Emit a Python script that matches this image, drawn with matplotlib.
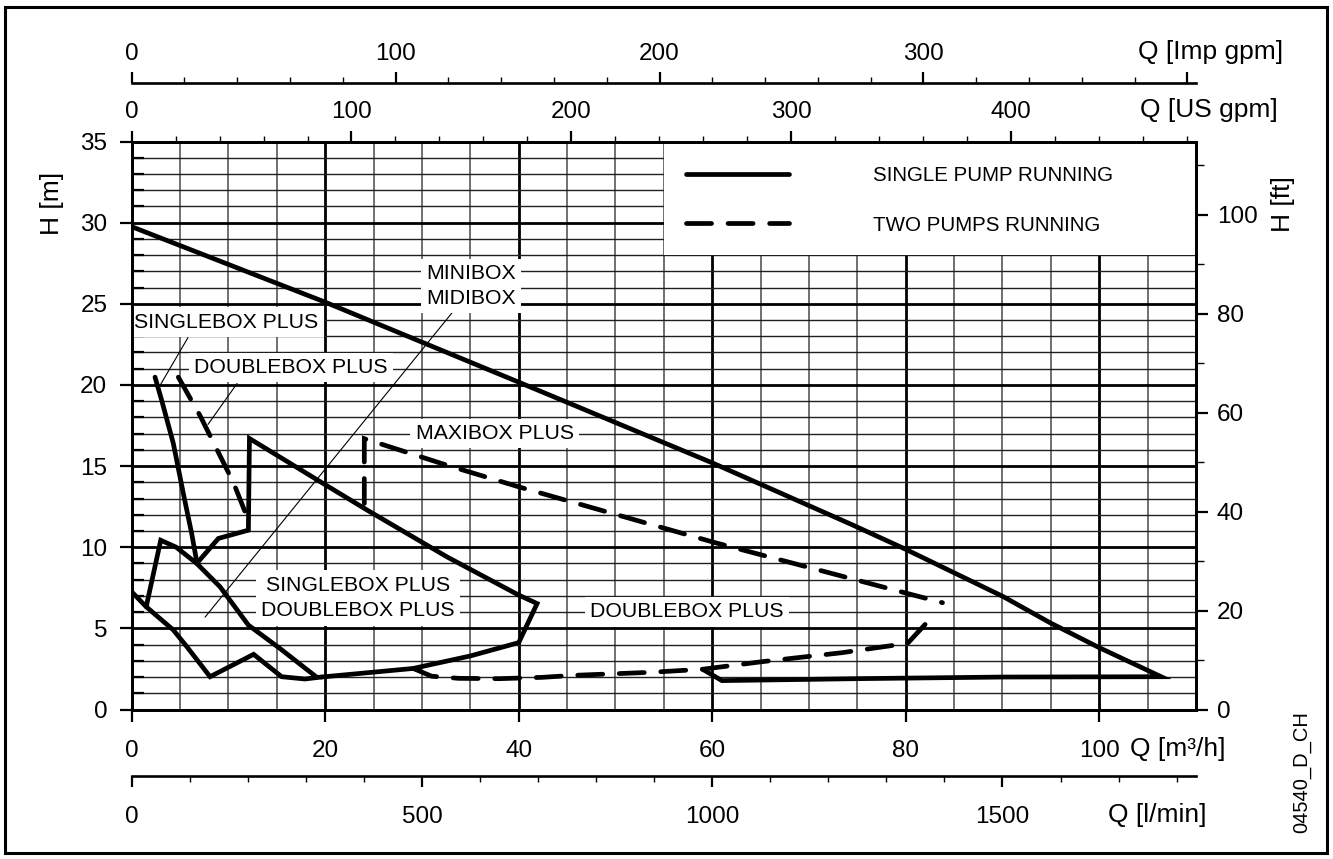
import matplotlib
matplotlib.use('Agg')
import matplotlib.pyplot as plt
from matplotlib.ticker import MultipleLocator, FixedLocator, FixedFormatter
from matplotlib.patches import Rectangle
from matplotlib.lines import Line2D

plt.rcParams['font.family'] = ['Liberation Sans', 'DejaVu Sans']

# ---------------- data (Q in m3/h, H in m) ----------------
mini_midi_q = [59.0, 61.0, 75.0, 90.0, 106.4, 100.0, 94.9, 90.1, 80.0, 74.4, 60.0, 40.0, 20.0, 0.0]
mini_midi_h = [2.48, 1.78, 1.90, 2.00, 2.02, 3.81, 5.35, 6.95, 9.87, 11.4, 15.2, 20.17, 25.1, 29.75]

maxi_single_q = [6.72, 8.96, 12.06, 12.17, 20.0, 24.3, 32.6, 40.0, 41.9, 40.0, 35.0, 29.1, 19.6]
maxi_single_h = [9.0, 10.54, 11.05, 16.7, 13.85, 12.3, 9.4, 7.05, 6.53, 4.12, 3.3, 2.53, 2.0]

maxi_double_q = [24.04, 24.04, 32.6, 40.0, 60.3, 83.8]
maxi_double_h = [12.69, 16.69, 15.05, 13.72, 10.28, 6.58]

double_bottom_q = [29.1, 31.0, 33.8, 38.0, 42.4, 45.5, 53.6, 59.0, 65.2, 73.4, 80.2, 82.9]
double_bottom_h = [2.53, 2.05, 1.92, 1.90, 1.98, 2.10, 2.29, 2.48, 2.95, 3.50, 4.08, 5.82]

single_steep_q = [2.41, 3.1, 4.3, 5.34, 6.2, 6.65]
single_steep_h = [20.48, 19.05, 16.4, 13.3, 10.84, 9.35]

double_steep_q = [4.82, 6.37, 7.07, 10.5, 12.24]
double_steep_h = [20.48, 18.84, 18.1, 14.0, 11.4]

small_a_q = [0.0, 1.5, 4.3, 5.7, 8.1, 12.6, 15.5, 17.9, 19.6]
small_a_h = [7.25, 6.33, 4.9, 3.87, 2.02, 3.4, 2.02, 1.88, 2.0]

small_b_q = [1.5, 3.0, 4.6, 6.72, 9.13, 12.06, 15.3, 19.1]
small_b_h = [6.33, 10.43, 10.0, 9.0, 7.56, 5.2, 3.77, 2.0]

legend_labels = ['SINGLE PUMP RUNNING', 'TWO PUMPS RUNNING']

m3h_ticks = [0, 20, 40, 60, 80, 100]
lmin_ticks = [0, 500, 1000, 1500]
usgpm_ticks = [0, 100, 200, 300, 400]
impgpm_ticks = [0, 100, 200, 300, 400]
impgpm_labels = ['0', '100', '200', '300', '']
hm_ticks = [0, 5, 10, 15, 20, 25, 30, 35]
hft_ticks = [0, 20, 40, 60, 80, 100]

# unit conversions to m3/h and m
US_GPM = 0.227125
IMP_GPM = 0.272765
L_MIN = 0.06
FT = 0.3048

# ---------------- figure ----------------
W, Hpx = 1333, 859
fig = plt.figure(figsize=(W / 100, Hpx / 100), dpi=100)


def fx(px):
    return px / W


def fy(py):
    return 1 - py / Hpx


L, R, T, B = 131.7, 1196.0, 141.5, 709.5
QMAX, HMAX = 110.0, 35.0
TICK_FS = 17.5
UNIT_FS = 19
ANN_FS = 15.3

ax = fig.add_axes([fx(L), fy(B), fx(R) - fx(L), fy(T) - fy(B)])
ax.set_xlim(0, QMAX)
ax.set_ylim(0, HMAX)
ax.set_axisbelow(True)
ax.xaxis.set_major_locator(FixedLocator(m3h_ticks))
ax.xaxis.set_minor_locator(MultipleLocator(5))
ax.yaxis.set_major_locator(FixedLocator(hm_ticks))
ax.yaxis.set_minor_locator(MultipleLocator(1))
ax.grid(which='major', color='black', lw=2.0)
ax.grid(which='minor', axis='x', color='#707070', lw=1.4)
ax.grid(which='minor', axis='y', color='#202020', lw=1.0)
ax.tick_params(axis='x', which='major', direction='out', length=8.6, width=1.6,
               labelsize=TICK_FS, pad=13.5, top=False)
ax.tick_params(axis='x', which='minor', length=0, top=False)
ax.tick_params(axis='y', which='major', direction='out', length=8.6, width=1.6,
               labelsize=TICK_FS, pad=9.0, right=False)
ax.tick_params(axis='y', which='minor', direction='in', length=8.6, width=1.6, right=False)
for s in ax.spines.values():
    s.set_linewidth(1.9)

# legend background
ax.add_patch(Rectangle((55, 28), 55, 7, facecolor='white', edgecolor='none', zorder=1.5))

LW = 3.4
DASH = (0, (5.3, 3.5))
solid_kw = dict(color='black', lw=LW, zorder=3, solid_joinstyle='miter', solid_capstyle='round')
dash_kw = dict(color='black', lw=LW, zorder=3, ls=DASH, dash_capstyle='round', dash_joinstyle='miter')

ax.plot(mini_midi_q, mini_midi_h, **solid_kw)
ax.plot(maxi_single_q, maxi_single_h, **solid_kw)
ax.plot(single_steep_q, single_steep_h, **solid_kw)
ax.plot(small_a_q, small_a_h, **solid_kw)
ax.plot(small_b_q, small_b_h, **solid_kw)
ax.plot(maxi_double_q, maxi_double_h, **dash_kw)
ax.plot(double_bottom_q, double_bottom_h, **dash_kw)
ax.plot(double_steep_q, double_steep_h, **dash_kw)

# legend
handles = [Line2D([], [], color='black', lw=LW, solid_capstyle='round'),
           Line2D([], [], color='black', lw=LW, ls=DASH, dash_capstyle='round')]
ax.legend(handles, legend_labels, loc='upper left', bbox_to_anchor=(57.3, 33.5),
          bbox_transform=ax.transData, frameon=False, borderpad=0, borderaxespad=0,
          handlelength=5.0, handletextpad=4.1, labelspacing=1.5, fontsize=14.8)

# annotation labels
box = dict(boxstyle='square,pad=0.25', fc='white', ec='none')
lead = dict(arrowstyle='-', lw=0.8, color='black', shrinkA=0, shrinkB=0)
ax.annotate('', xy=(7.58, 5.69), xytext=(33.13, 24.46), arrowprops=lead, zorder=2.5)
ax.annotate('', xy=(2.93, 19.97), xytext=(5.82, 22.92), arrowprops=lead, zorder=2.5)
ax.annotate('', xy=(7.89, 17.57), xytext=(10.89, 20.09), arrowprops=lead, zorder=2.5)

ax.text(35.1, 26.1, 'MINIBOX\nMIDIBOX', ha='center', va='center', multialignment='left',
        fontsize=ANN_FS, bbox=box, zorder=2.8, linespacing=1.36)
ax.text(9.76, 23.86, 'SINGLEBOX PLUS', ha='center', va='center', fontsize=ANN_FS, bbox=box, zorder=2.8)
ax.text(16.48, 21.08, 'DOUBLEBOX PLUS', ha='center', va='center', fontsize=ANN_FS, bbox=box, zorder=2.8)
ax.text(37.5, 17.0, 'MAXIBOX PLUS', ha='center', va='center', fontsize=ANN_FS, bbox=box, zorder=2.8)
ax.text(23.4, 6.87, 'SINGLEBOX PLUS\nDOUBLEBOX PLUS', ha='center', va='center', fontsize=ANN_FS,
        bbox=box, zorder=2.8, linespacing=1.45)
ax.text(57.4, 6.02, 'DOUBLEBOX PLUS', ha='center', va='center', fontsize=ANN_FS, bbox=box, zorder=2.8)

# right axis in ft
axr = ax.twinx()
axr.set_ylim(0, HMAX / FT)
axr.yaxis.set_major_locator(FixedLocator(hft_ticks))
axr.yaxis.set_minor_locator(MultipleLocator(10))
axr.tick_params(axis='y', which='major', direction='out', length=8.6, width=1.6, labelsize=TICK_FS, pad=6.5)
axr.tick_params(axis='y', which='minor', direction='out', length=5.5, width=1.0)
for s in axr.spines.values():
    s.set_linewidth(1.9)

# top axis in US gpm
axt = ax.twiny()
axt.set_xlim(0, QMAX / US_GPM)
axt.xaxis.set_major_locator(FixedLocator(usgpm_ticks))
axt.xaxis.set_minor_locator(MultipleLocator(20))
axt.tick_params(axis='x', which='major', direction='out', length=8.2, width=1.6, labelsize=TICK_FS, pad=4.8)
axt.tick_params(axis='x', which='minor', direction='out', length=4.4, width=1.0)
for s in axt.spines.values():
    s.set_linewidth(1.9)

# Imp gpm axis (separate line above)
axi = fig.add_axes([fx(L), fy(82.7), fx(R) - fx(L), 1e-4])
axi.set_xlim(0, QMAX / IMP_GPM)
axi.patch.set_visible(False)
for k in ['left', 'right', 'bottom']:
    axi.spines[k].set_visible(False)
axi.spines['top'].set_linewidth(1.9)
axi.set_yticks([])
axi.xaxis.set_ticks_position('top')
axi.xaxis.set_label_position('top')
axi.xaxis.set_major_locator(FixedLocator(impgpm_ticks))
axi.xaxis.set_major_formatter(FixedFormatter(impgpm_labels))
axi.xaxis.set_minor_locator(MultipleLocator(20))
axi.tick_params(axis='x', which='major', direction='out', length=8.2, width=1.6, labelsize=TICK_FS, pad=4.3)
axi.tick_params(axis='x', which='minor', direction='out', length=4.4, width=1.0)

# l/min axis (separate line below)
axl = fig.add_axes([fx(L), fy(775.7), fx(R) - fx(L), 1e-4])
axl.set_xlim(0, QMAX / L_MIN)
axl.patch.set_visible(False)
for k in ['left', 'right', 'top']:
    axl.spines[k].set_visible(False)
axl.spines['bottom'].set_linewidth(1.9)
axl.set_yticks([])
axl.xaxis.set_major_locator(FixedLocator(lmin_ticks))
axl.xaxis.set_minor_locator(MultipleLocator(100))
axl.tick_params(axis='x', which='major', direction='out', length=8.0, width=1.6, labelsize=TICK_FS, pad=13.5)
axl.tick_params(axis='x', which='minor', direction='out', length=4.4, width=1.0)

# axis unit labels
fig.text(fx(1283), fy(51.5), 'Q [Imp gpm]', ha='right', va='center', fontsize=UNIT_FS)
fig.text(fx(1278), fy(110), 'Q [US gpm]', ha='right', va='center', fontsize=UNIT_FS)
fig.text(fx(1225), fy(749), 'Q [m³/h]', ha='right', va='center', fontsize=UNIT_FS)
fig.text(fx(1206), fy(815), 'Q [l/min]', ha='right', va='center', fontsize=UNIT_FS)
fig.text(fx(52), fy(203), 'H [m]', rotation=90, ha='center', va='center', fontsize=UNIT_FS)
fig.text(fx(1283), fy(204), 'H [ft]', rotation=90, ha='center', va='center', fontsize=UNIT_FS)
fig.text(fx(1302), fy(772), '04540_D_CH', rotation=90, ha='center', va='center', fontsize=14.5)

# outer frame
fig.add_artist(Rectangle((fx(5), fy(853)), fx(1327) - fx(5), fy(7) - fy(853),
                         transform=fig.transFigure, fill=False, lw=2.2, edgecolor='black'))

fig.savefig('out.png', dpi=100)
